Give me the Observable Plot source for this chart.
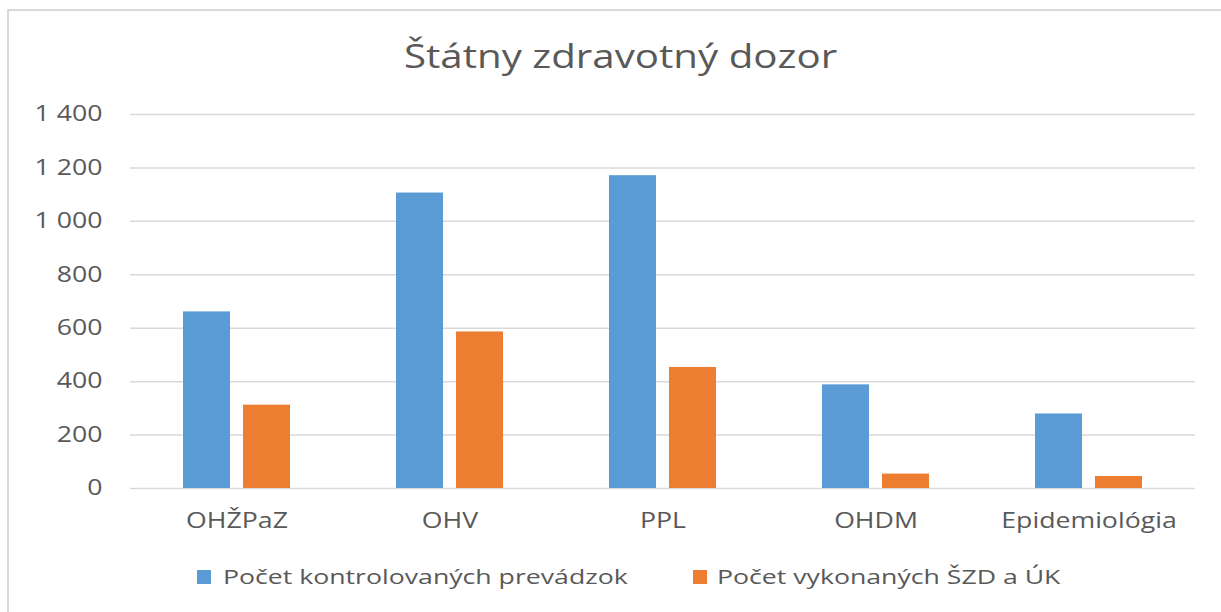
<!DOCTYPE html>
<html>
<head>
<meta charset="utf-8">
<script src="https://cdn.jsdelivr.net/npm/d3@7"></script>
<script src="https://cdn.jsdelivr.net/npm/@observablehq/plot@0.6"></script>
<style>
  body { margin: 0; background: #fff; font-family: "Open Sans", sans-serif; }
  #wrap { position: relative; width: 1221px; height: 612px; overflow: hidden; }
  #frame { position: absolute; left: 7px; top: 9px; width: 1230px; height: 620px; border-left: 2px solid #d9d9d9; border-top: 2px solid #d9d9d9; box-sizing: border-box; }
  #title { position: absolute; left: 10px; width: 1221px; top: 33px; text-align: center; font-size: 33px; color: #595959; transform: scaleX(1.22); transform-origin: 50% 0; }
  .sw { position: absolute; width: 14px; height: 14px; top: 570px; }
  .lt { position: absolute; top: 562px; font-size: 20.5px; color: #595959; white-space: nowrap; transform: scaleX(1.3); transform-origin: 0 0; }
  #chart { position: absolute; left: 0; top: 0; }
</style>
</head>
<body>
<div id="wrap">
  <div id="chart"></div>
  <div id="frame"></div>
  <div id="title"></div>
  <div id="legend"></div>
</div>
<script>
const title = "Štátny zdravotný dozor";
const categories = ["OHŽPaZ", "OHV", "PPL", "OHDM", "Epidemiológia"];
const seriesNames = ["Počet kontrolovaných prevádzok", "Počet vykonaných ŠZD a ÚK"];
const seriesColors = ["#5B9BD5", "#ED7D31"];
const kontrolovane = [661, 1106, 1171, 388, 279];
const vykonane = [312, 586, 453, 54, 45];
const yTicks = [0, 200, 400, 600, 800, 1000, 1200, 1400];

const data = [];
categories.forEach((c, i) => {
  data.push({category: c, series: seriesNames[0], value: kontrolovane[i]});
  data.push({category: c, series: seriesNames[1], value: vykonane[i]});
});

const fmt = v => d3.format(",")(v).replace(/,/g, " ");

const chart = Plot.plot({
  width: 1221,
  height: 612,
  marginTop: 114,
  marginBottom: 124,
  marginLeft: 128,
  marginRight: 25,
  style: {fontFamily: "Open Sans, sans-serif", fontSize: "21px", color: "#595959", background: "transparent"},
  fx: {domain: categories, padding: 0, label: null},
  x: {domain: seriesNames, paddingInner: 0.213, paddingOuter: 0.86, axis: null},
  y: {domain: [0, 1400], label: null},
  color: {domain: seriesNames, range: seriesColors},
  marks: [
    Plot.gridY(yTicks, {stroke: "#d9d9d9", strokeOpacity: 1, strokeWidth: 1.5}),
    Plot.barY(data, {fx: "category", x: "series", y: "value", fill: "series"}),
    Plot.axisY({ticks: yTicks, tickFormat: fmt, tickSize: 0, tickPadding: 28, label: null, fontSize: 21}),
    Plot.axisFx({anchor: "bottom", tickSize: 0, tickPadding: 25, label: null, fontSize: 21})
  ]
});
// widen axis labels horizontally to match the reference's wide glyphs
const widen = (sel, s) => chart.querySelectorAll(sel).forEach(t => {
  const tr = t.getAttribute("transform") || "";
  t.setAttribute("transform", tr + ` scale(${s},1)`);
});
widen('g[aria-label="y-axis tick label"] text', 1.27);
widen('g[aria-label="fx-axis tick label"] text', 1.27);
document.getElementById("chart").appendChild(chart);
document.getElementById("title").textContent = title;

const legend = document.getElementById("legend");
const swatchX = [197, 693];
const textX = [223, 717];
seriesNames.forEach((s, i) => {
  const sw = document.createElement("div");
  sw.className = "sw";
  sw.style.left = swatchX[i] + "px";
  sw.style.background = seriesColors[i];
  legend.appendChild(sw);
  const lt = document.createElement("div");
  lt.className = "lt";
  lt.style.left = textX[i] + "px";
  lt.textContent = s;
  legend.appendChild(lt);
});
</script>
</body>
</html>
